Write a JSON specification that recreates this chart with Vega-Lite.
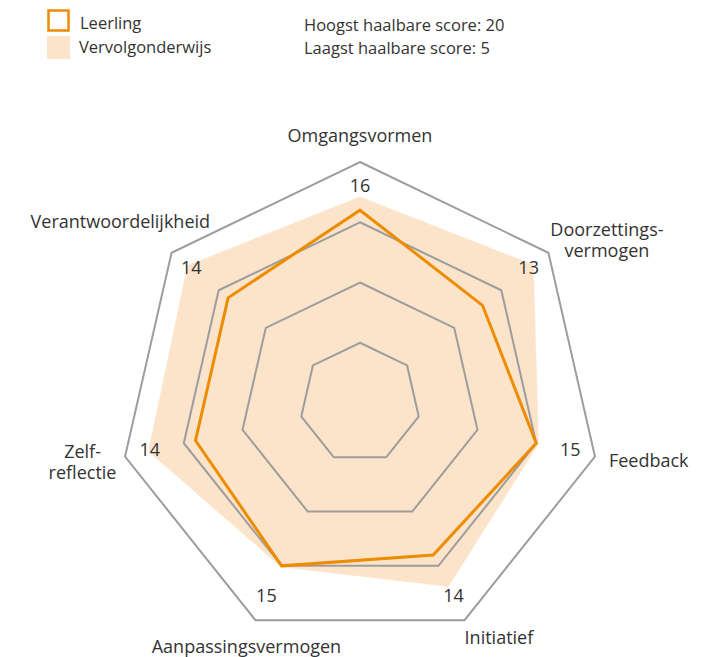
{
  "$schema": "https://vega.github.io/schema/vega-lite/v6.json",
  "width": 712,
  "height": 657,
  "padding": 0,
  "autosize": {"type": "none"},
  "background": "white",
  "config": {"view": {"stroke": null}, "font": "Open Sans"},
  "title": {
    "text": ["Hoogst haalbare score: 20", "Laagst haalbare score: 5"],
    "anchor": "start",
    "frame": "group",
    "orient": "top",
    "dx": 304,
    "offset": -57,
    "fontSize": 16.5,
    "fontWeight": "normal",
    "font": "Open Sans",
    "color": "#333333",
    "lineHeight": 23
  },
  "datasets": {
    "scores": [
      {"i": 0, "aspect": "Omgangsvormen", "series": "Leerling", "score": 16},
      {"i": 1, "aspect": "Doorzettingsvermogen", "series": "Leerling", "score": 13},
      {"i": 2, "aspect": "Feedback", "series": "Leerling", "score": 15},
      {"i": 3, "aspect": "Initiatief", "series": "Leerling", "score": 14},
      {"i": 4, "aspect": "Aanpassingsvermogen", "series": "Leerling", "score": 15},
      {"i": 5, "aspect": "Zelfreflectie", "series": "Leerling", "score": 14},
      {"i": 6, "aspect": "Verantwoordelijkheid", "series": "Leerling", "score": 14},
      {"i": 0, "aspect": "Omgangsvormen", "series": "Vervolgonderwijs", "score": 17.1},
      {"i": 1, "aspect": "Doorzettingsvermogen", "series": "Vervolgonderwijs", "score": 18.4},
      {"i": 2, "aspect": "Feedback", "series": "Vervolgonderwijs", "score": 15.2},
      {"i": 3, "aspect": "Initiatief", "series": "Vervolgonderwijs", "score": 16.9},
      {"i": 4, "aspect": "Aanpassingsvermogen", "series": "Vervolgonderwijs", "score": 15.1},
      {"i": 5, "aspect": "Zelfreflectie", "series": "Vervolgonderwijs", "score": 18.0},
      {"i": 6, "aspect": "Verantwoordelijkheid", "series": "Vervolgonderwijs", "score": 18.3}
    ],
    "aspects": [
      {"i": 0, "label": "Omgangsvormen"},
      {"i": 1, "label": "Doorzettings-\nvermogen"},
      {"i": 2, "label": "Feedback"},
      {"i": 3, "label": "Initiatief"},
      {"i": 4, "label": "Aanpassingsvermogen"},
      {"i": 5, "label": "Zelf-\nreflectie"},
      {"i": 6, "label": "Verantwoordelijkheid"}
    ],
    "rings": [
      {"ring": 5, "i": 0}, {"ring": 5, "i": 1}, {"ring": 5, "i": 2}, {"ring": 5, "i": 3}, {"ring": 5, "i": 4}, {"ring": 5, "i": 5}, {"ring": 5, "i": 6},
      {"ring": 10, "i": 0}, {"ring": 10, "i": 1}, {"ring": 10, "i": 2}, {"ring": 10, "i": 3}, {"ring": 10, "i": 4}, {"ring": 10, "i": 5}, {"ring": 10, "i": 6},
      {"ring": 15, "i": 0}, {"ring": 15, "i": 1}, {"ring": 15, "i": 2}, {"ring": 15, "i": 3}, {"ring": 15, "i": 4}, {"ring": 15, "i": 5}, {"ring": 15, "i": 6},
      {"ring": 20, "i": 0}, {"ring": 20, "i": 1}, {"ring": 20, "i": 2}, {"ring": 20, "i": 3}, {"ring": 20, "i": 4}, {"ring": 20, "i": 5}, {"ring": 20, "i": 6}
    ]
  },
  "encoding": {
    "x": {"field": "px", "type": "quantitative", "scale": {"domain": [-29.876, 29.212], "nice": false, "zero": false}, "axis": null},
    "y": {"field": "py", "type": "quantitative", "scale": {"domain": [-21.079, 33.444], "nice": false, "zero": false}, "axis": null}
  },
  "layer": [
    {
      "data": {"name": "scores"},
      "transform": [
        {"filter": "datum.series === 'Vervolgonderwijs'"},
        {"calculate": "datum.i * 2 * PI / 7", "as": "theta"},
        {"calculate": "datum.score * sin(datum.theta)", "as": "px"},
        {"calculate": "datum.score * cos(datum.theta)", "as": "py"}
      ],
      "mark": {"type": "line", "interpolate": "linear-closed", "stroke": "#FCE4CA", "strokeWidth": 0.5},
      "encoding": {
        "order": {"field": "i", "type": "quantitative"},
        "fill": {
          "field": "series",
          "type": "nominal",
          "scale": {"domain": ["Vervolgonderwijs"], "range": ["#FCE4CA"]},
          "legend": {
            "title": null,
            "orient": "none",
            "legendX": 47,
            "legendY": 36,
            "padding": 0,
            "symbolType": "square",
            "symbolSize": 529,
            "symbolStrokeWidth": 0,
            "symbolOpacity": 1,
            "labelFontSize": 16.5,
            "labelFont": "Open Sans",
            "labelColor": "#333333",
            "labelOffset": 9,
            "encode": {"labels": {"update": {"dy": {"value": 1}}}}
          }
        }
      }
    },
    {
      "data": {"name": "rings"},
      "transform": [
        {"calculate": "datum.i * 2 * PI / 7", "as": "theta"},
        {"calculate": "datum.ring * sin(datum.theta)", "as": "px"},
        {"calculate": "datum.ring * cos(datum.theta)", "as": "py"}
      ],
      "mark": {"type": "line", "interpolate": "linear-closed", "stroke": "#9D9D9D", "strokeWidth": 2},
      "encoding": {
        "detail": {"field": "ring", "type": "nominal"},
        "order": {"field": "i", "type": "quantitative"}
      }
    },
    {
      "data": {"name": "scores"},
      "transform": [
        {"filter": "datum.series === 'Leerling'"},
        {"calculate": "datum.i * 2 * PI / 7", "as": "theta"},
        {"calculate": "datum.score * sin(datum.theta)", "as": "px"},
        {"calculate": "datum.score * cos(datum.theta)", "as": "py"}
      ],
      "mark": {"type": "line", "interpolate": "linear-closed", "strokeWidth": 3, "strokeJoin": "miter"},
      "encoding": {
        "order": {"field": "i", "type": "quantitative"},
        "color": {
          "field": "series",
          "type": "nominal",
          "scale": {"domain": ["Leerling"], "range": ["#EE8C00"]},
          "legend": {
            "title": null,
            "orient": "none",
            "legendX": 47,
            "legendY": 9,
            "padding": 0,
            "symbolType": "square",
            "symbolSize": 400,
            "symbolStrokeWidth": 2.5,
            "symbolFillColor": "white",
            "symbolOpacity": 1,
            "labelFontSize": 16.5,
            "labelFont": "Open Sans",
            "labelColor": "#333333",
            "labelOffset": 10,
            "encode": {"labels": {"update": {"dy": {"value": 3}}}}
          }
        }
      }
    },
    {
      "data": {"name": "scores"},
      "transform": [
        {"filter": "datum.series === 'Leerling'"},
        {"calculate": "datum.i * 2 * PI / 7", "as": "theta"},
        {"calculate": "17.9 * sin(datum.theta)", "as": "px"},
        {"calculate": "17.9 * cos(datum.theta)", "as": "py"}
      ],
      "mark": {"type": "text", "fontSize": 18, "font": "Open Sans", "color": "#333333", "align": "center", "baseline": "middle"},
      "encoding": {"text": {"field": "score", "type": "quantitative"}}
    },
    {
      "data": {"name": "aspects"},
      "transform": [
        {"filter": "datum.i === 0"},
        {"calculate": "datum.i * 2 * PI / 7", "as": "theta"},
        {"calculate": "20 * sin(datum.theta)", "as": "px"},
        {"calculate": "20 * cos(datum.theta)", "as": "py"}
      ],
      "mark": {"type": "text", "fontSize": 18, "font": "Open Sans", "color": "#333333", "align": "center", "baseline": "middle", "lineBreak": "\n", "lineHeight": 21, "dx": 0, "dy": -25},
      "encoding": {"text": {"field": "label"}}
    },
    {
      "data": {"name": "aspects"},
      "transform": [
        {"filter": "datum.i === 1"},
        {"calculate": "datum.i * 2 * PI / 7", "as": "theta"},
        {"calculate": "20 * sin(datum.theta)", "as": "px"},
        {"calculate": "20 * cos(datum.theta)", "as": "py"}
      ],
      "mark": {"type": "text", "fontSize": 18, "font": "Open Sans", "color": "#333333", "align": "center", "baseline": "middle", "lineBreak": "\n", "lineHeight": 21, "dx": 58.5, "dy": -21.5},
      "encoding": {"text": {"field": "label"}}
    },
    {
      "data": {"name": "aspects"},
      "transform": [
        {"filter": "datum.i === 2"},
        {"calculate": "datum.i * 2 * PI / 7", "as": "theta"},
        {"calculate": "20 * sin(datum.theta)", "as": "px"},
        {"calculate": "20 * cos(datum.theta)", "as": "py"}
      ],
      "mark": {"type": "text", "fontSize": 18, "font": "Open Sans", "color": "#333333", "align": "left", "baseline": "middle", "lineBreak": "\n", "lineHeight": 21, "dx": 14, "dy": 5},
      "encoding": {"text": {"field": "label"}}
    },
    {
      "data": {"name": "aspects"},
      "transform": [
        {"filter": "datum.i === 3"},
        {"calculate": "datum.i * 2 * PI / 7", "as": "theta"},
        {"calculate": "20 * sin(datum.theta)", "as": "px"},
        {"calculate": "20 * cos(datum.theta)", "as": "py"}
      ],
      "mark": {"type": "text", "fontSize": 18, "font": "Open Sans", "color": "#333333", "align": "left", "baseline": "middle", "lineBreak": "\n", "lineHeight": 21, "dx": 0, "dy": 19},
      "encoding": {"text": {"field": "label"}}
    },
    {
      "data": {"name": "aspects"},
      "transform": [
        {"filter": "datum.i === 4"},
        {"calculate": "datum.i * 2 * PI / 7", "as": "theta"},
        {"calculate": "20 * sin(datum.theta)", "as": "px"},
        {"calculate": "20 * cos(datum.theta)", "as": "py"}
      ],
      "mark": {"type": "text", "fontSize": 18, "font": "Open Sans", "color": "#333333", "align": "center", "baseline": "middle", "lineBreak": "\n", "lineHeight": 21, "dx": -9, "dy": 28},
      "encoding": {"text": {"field": "label"}}
    },
    {
      "data": {"name": "aspects"},
      "transform": [
        {"filter": "datum.i === 5"},
        {"calculate": "datum.i * 2 * PI / 7", "as": "theta"},
        {"calculate": "20 * sin(datum.theta)", "as": "px"},
        {"calculate": "20 * cos(datum.theta)", "as": "py"}
      ],
      "mark": {"type": "text", "fontSize": 18, "font": "Open Sans", "color": "#333333", "align": "center", "baseline": "middle", "lineBreak": "\n", "lineHeight": 21, "dx": -42.5, "dy": -3.5},
      "encoding": {"text": {"field": "label"}}
    },
    {
      "data": {"name": "aspects"},
      "transform": [
        {"filter": "datum.i === 6"},
        {"calculate": "datum.i * 2 * PI / 7", "as": "theta"},
        {"calculate": "20 * sin(datum.theta)", "as": "px"},
        {"calculate": "20 * cos(datum.theta)", "as": "py"}
      ],
      "mark": {"type": "text", "fontSize": 18, "font": "Open Sans", "color": "#333333", "align": "right", "baseline": "middle", "lineBreak": "\n", "lineHeight": 21, "dx": 38.5, "dy": -30},
      "encoding": {"text": {"field": "label"}}
    }
  ]
}
